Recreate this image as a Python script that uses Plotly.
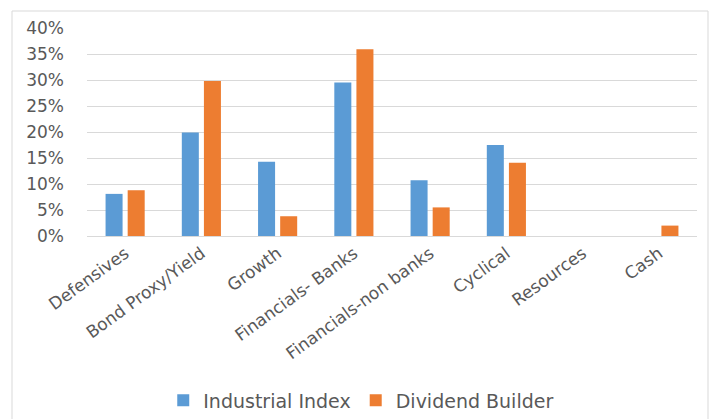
import plotly.graph_objects as go

categories = ["Defensives", "Bond Proxy/Yield", "Growth", "Financials- Banks",
              "Financials-non banks", "Cyclical", "Resources", "Cash"]
industrial_index = [0.081, 0.199, 0.143, 0.295, 0.107, 0.175, 0.0, 0.0]
dividend_builder = [0.088, 0.298, 0.038, 0.359, 0.055, 0.141, 0.0, 0.020]
y_ticks = [0, 0.05, 0.10, 0.15, 0.20, 0.25, 0.30, 0.35, 0.40]

W, H = 711, 419
ml, mr, mt, mb = 87, 14, 28, 183
pw, ph = W - ml - mr, H - mt - mb

fig = go.Figure()
fig.add_trace(go.Bar(name="Industrial Index", x=categories, y=industrial_index,
                     marker=dict(color="#5B9BD5", line=dict(width=0))))
fig.add_trace(go.Bar(name="Dividend Builder", x=categories, y=dividend_builder,
                     marker=dict(color="#ED7D31", line=dict(width=0))))

font_family = "DejaVu Sans, sans-serif"
fig.update_layout(
    width=W, height=H,
    margin=dict(l=ml, r=mr, t=mt, b=mb, autoexpand=False),
    paper_bgcolor="white", plot_bgcolor="white",
    barmode="group", bargap=0.42, bargroupgap=0.23,
    font=dict(family=font_family, size=17, color="#595959"),
    showlegend=True,
    legend=dict(orientation="h", x=0.125, xanchor="left", y=-0.79, yanchor="middle",
                font=dict(size=19, color="#595959"), itemwidth=30,
                traceorder="normal", itemsizing="constant"),
    xaxis=dict(tickangle=-36, showgrid=False, showline=True, linecolor="#d9d9d9",
               linewidth=1, ticks="", tickfont=dict(size=17, color="#595959"),
               fixedrange=True),
    yaxis=dict(range=[0, 0.4], tickvals=y_ticks, tickformat=".0%",
               showgrid=True, gridcolor="#d9d9d9", gridwidth=1, zeroline=False,
               showline=False, ticks="", ticklabelstandoff=22,
               tickfont=dict(size=17, color="#595959"), fixedrange=True),
)

# outer chart border
x0 = (12 - ml) / pw
x1 = (708 - ml) / pw
y1 = (H - mb - 11) / ph
y0 = (H - mb - 425) / ph
fig.add_shape(type="rect", xref="paper", yref="paper", x0=x0, x1=x1, y0=y0, y1=y1,
              line=dict(color="#d9d9d9", width=1), fillcolor="rgba(0,0,0,0)", layer="below")

fig.write_html("out.html")
